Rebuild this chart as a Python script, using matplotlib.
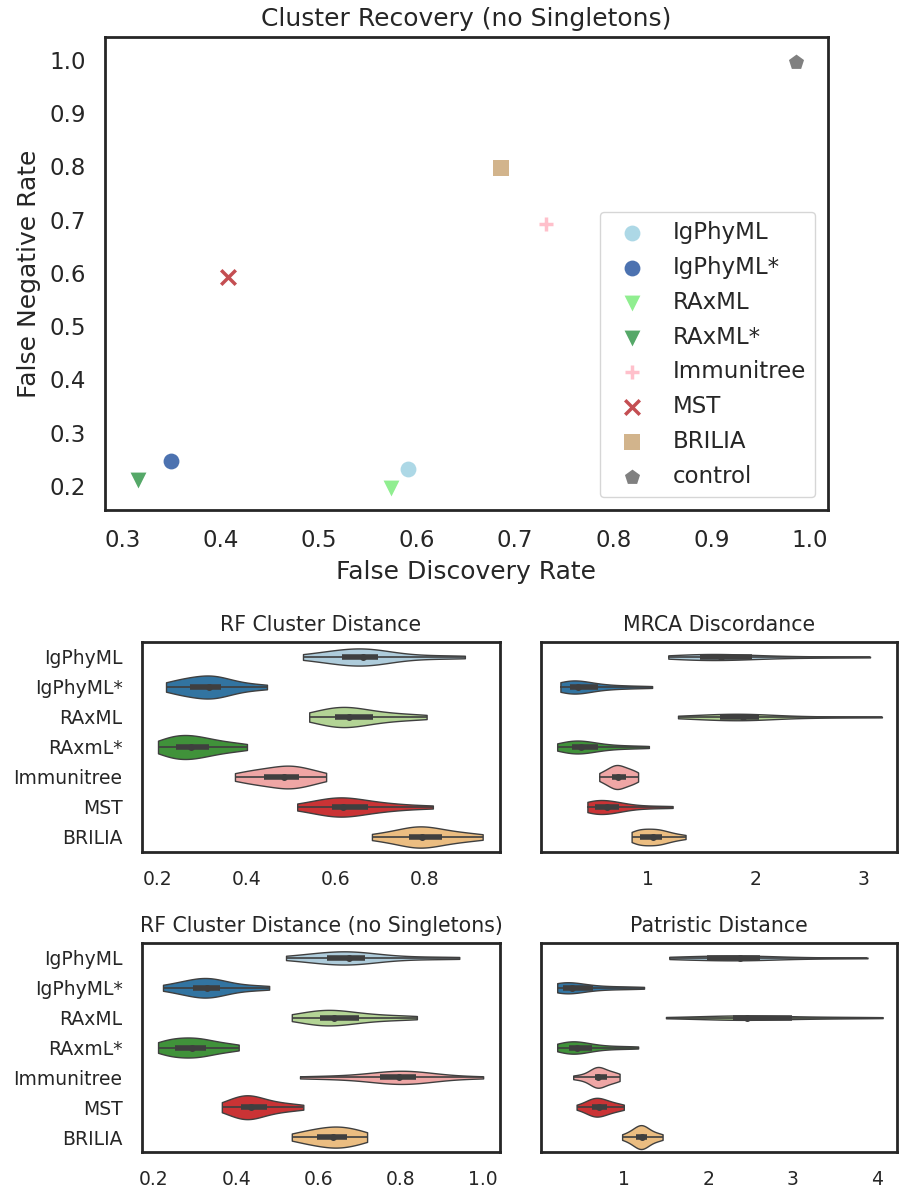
import numpy as np
import pandas as pd
import matplotlib
matplotlib.use("Agg")
import matplotlib.pyplot as plt
import seaborn as sns

sns.set_style("white")
plt.rcParams['font.family'] = ['DejaVu Sans']
plt.rcParams['text.color'] = '0.15'
plt.rcParams['axes.labelcolor'] = '0.15'
plt.rcParams['xtick.color'] = '0.15'
plt.rcParams['ytick.color'] = '0.15'

# ---------------- scatter data ----------------
methods = ["IgPhyML", "IgPhyML*", "RAxML", "RAxML*", "Immunitree", "MST", "BRILIA", "control"]
fdr = [0.591, 0.349, 0.573, 0.315, 0.731, 0.407, 0.685, 0.986]
fnr = [0.232, 0.247, 0.196, 0.211, 0.692, 0.592, 0.797, 0.996]
scatter_colors = ["#add8e6", "#4c72b0", "#90ee90", "#55a868", "#ffc0cb", "#c44e52", "#d2b48c", "#808080"]
scatter_markers = ["o", "o", "v", "v", "+", "x", "s", "p"]

# ---------------- violin data ----------------
violin_cats = ["IgPhyML", "IgPhyML*", "RAxML", "RAxmL*", "Immunitree", "MST", "BRILIA"]
violin_palette = ["#a6cee3", "#1f78b4", "#b2df8a", "#33a02c", "#fb9a99", "#e31a1c", "#fdbf6f"]

rf_cluster = [
    [.526, .560, .585, .600, .614, .628, .640, .651, .661, .670, .678, .686, .695, .720, .760, .820, .890],
    [.218, .235, .250, .262, .272, .285, .296, .306, .314, .321, .328, .335, .342, .358, .378, .405, .445],
    [.540, .560, .575, .588, .598, .608, .615, .622, .629, .640, .652, .668, .684, .705, .730, .765, .804],
    [.200, .212, .224, .233, .240, .250, .258, .266, .274, .283, .293, .304, .315, .330, .350, .372, .400],
    [.373, .395, .412, .427, .438, .452, .465, .476, .484, .492, .499, .507, .517, .528, .540, .556, .578],
    [.513, .540, .560, .578, .591, .600, .606, .611, .616, .628, .642, .656, .672, .695, .720, .755, .818],
    [.681, .710, .730, .750, .764, .772, .780, .787, .793, .802, .812, .825, .838, .855, .875, .900, .930],
]
mrca = [
    [1.19, 1.30, 1.38, 1.44, 1.48, 1.54, 1.59, 1.64, 1.68, 1.74, 1.81, 1.89, 1.97, 2.12, 2.35, 2.65, 3.06],
    [.19, .22, .24, .26, .28, .30, .32, .34, .35, .38, .42, .47, .54, .62, .72, .86, 1.04],
    [1.28, 1.42, 1.52, 1.60, 1.67, 1.73, 1.79, 1.84, 1.88, 1.91, 1.95, 1.99, 2.03, 2.18, 2.40, 2.72, 3.17],
    [.16, .21, .25, .28, .30, .32, .34, .36, .38, .41, .45, .49, .54, .62, .72, .85, 1.01],
    [.55, .59, .62, .65, .67, .69, .70, .71, .72, .74, .76, .78, .80, .83, .85, .88, .91],
    [.44, .46, .48, .50, .51, .53, .55, .58, .62, .65, .68, .70, .73, .80, .90, 1.05, 1.23],
    [.85, .88, .90, .92, .93, .96, .99, 1.02, 1.05, 1.07, 1.09, 1.11, 1.13, 1.17, 1.21, 1.27, 1.35],
]
rf_nosingle = [
    [.521, .565, .590, .608, .621, .637, .650, .662, .673, .683, .693, .703, .713, .745, .790, .860, .942],
    [.222, .250, .268, .283, .295, .305, .314, .322, .329, .336, .343, .351, .361, .380, .405, .440, .480],
    [.535, .560, .578, .592, .604, .613, .621, .630, .638, .650, .664, .681, .699, .725, .755, .795, .839],
    [.210, .222, .233, .243, .251, .262, .272, .283, .292, .300, .309, .318, .327, .342, .360, .382, .406],
    [.555, .630, .680, .720, .750, .765, .776, .786, .796, .806, .816, .827, .838, .855, .875, .920, 1.0],
    [.365, .382, .394, .403, .411, .418, .424, .430, .435, .442, .450, .461, .474, .490, .508, .532, .563],
    [.535, .556, .572, .586, .597, .607, .617, .627, .636, .644, .652, .660, .669, .680, .692, .705, .718],
]
patristic = [
    [1.54, 1.68, 1.80, 1.90, 1.99, 2.10, 2.20, 2.30, 2.38, 2.44, 2.50, 2.56, 2.62, 2.80, 3.05, 3.40, 3.89],
    [.21, .23, .25, .27, .28, .30, .32, .35, .38, .42, .48, .55, .63, .75, .90, 1.05, 1.24],
    [1.50, 1.80, 2.00, 2.16, 2.29, 2.34, 2.38, 2.42, 2.46, 2.55, 2.67, 2.82, 2.99, 3.20, 3.45, 3.75, 4.07],
    [.21, .26, .30, .33, .35, .37, .39, .42, .44, .48, .52, .57, .62, .72, .85, 1.00, 1.17],
    [.40, .50, .57, .62, .66, .67, .68, .685, .69, .71, .73, .76, .80, .84, .87, .91, .95],
    [.44, .52, .57, .60, .62, .64, .66, .68, .70, .72, .74, .77, .80, .84, .88, .94, 1.0],
    [.98, 1.05, 1.09, 1.12, 1.15, 1.17, 1.18, 1.20, 1.21, 1.22, 1.24, 1.25, 1.27, 1.31, 1.35, 1.40, 1.46],
]

panel_titles = ["RF Cluster Distance", "MRCA Discordance",
                "RF Cluster Distance (no Singletons)", "Patristic Distance"]
panel_data = [rf_cluster, mrca, rf_nosingle, patristic]
panel_xticks = [[0.2, 0.4, 0.6, 0.8], [1, 2, 3], [0.2, 0.4, 0.6, 0.8, 1.0], [1, 2, 3, 4]]
panel_xticklabels = [["0.2", "0.4", "0.6", "0.8"], ["1", "2", "3"],
                     ["0.2", "0.4", "0.6", "0.8", "1.0"], ["1", "2", "3", "4"]]
panel_xlims = [(0.164, 0.969), (0.01, 3.31), (0.171, 1.041), (0.018, 4.24)]

W, H = 899, 1192
fig = plt.figure(figsize=(W / 100, H / 100), dpi=100)

def frac(l, t, r, b):
    return [l / W, 1 - b / H, (r - l) / W, (b - t) / H]

spine_col = '0.15'

# ---------------- top scatter ----------------
ax = fig.add_axes(frac(105, 37, 828, 510))
for x, y, c, m, lab in zip(fdr, fnr, scatter_colors, scatter_markers, methods):
    if m in ("x", "+"):
        ax.scatter([x], [y], color=c, marker=m, s=110, linewidths=2.5, label=lab)
    else:
        ax.scatter([x], [y], color=c, marker=m, s=130, linewidths=0, label=lab)
ax.set_xlim(0.2816, 1.019)
ax.set_ylim(0.155, 1.043)
ax.set_xticks([0.3, 0.4, 0.5, 0.6, 0.7, 0.8, 0.9, 1.0])
ax.set_yticks([0.2, 0.3, 0.4, 0.5, 0.6, 0.7, 0.8, 0.9, 1.0])
ax.tick_params(axis='x', labelsize=16.5, length=0, pad=13.5)
ax.tick_params(axis='y', labelsize=16.5, length=0, pad=13.5)
ax.set_xlabel("False Discovery Rate", fontsize=18, labelpad=6)
ax.set_ylabel("False Negative Rate", fontsize=18, labelpad=6)
ax.set_title("Cluster Recovery (no Singletons)", fontsize=18, pad=8)
for s in ax.spines.values():
    s.set_color(spine_col)
    s.set_linewidth(2.0)
leg = ax.legend(loc="lower right", fontsize=16.5, frameon=True, borderaxespad=0.55,
                labelspacing=0.52)
leg.get_frame().set_edgecolor('0.8')

# ---------------- violins ----------------
boxes = [(142, 642, 500, 852), (541, 642, 897, 852), (142, 943, 500, 1152), (541, 943, 897, 1152)]
gray = '#3f3f3f'
for k in range(4):
    axv = fig.add_axes(frac(*boxes[k]))
    data = panel_data[k]
    df = pd.DataFrame({
        "value": [v for d in data for v in d],
        "method": [c for c, d in zip(violin_cats, data) for _ in d],
    })
    sns.violinplot(data=df, x="value", y="method", hue="method", order=violin_cats,
                   hue_order=violin_cats, palette=violin_palette, orient="h",
                   cut=0, inner=None, density_norm="area", common_norm=True,
                   linewidth=1.0, linecolor=gray, saturation=0.75, legend=False, ax=axv)
    for i, d in enumerate(data):
        d = np.asarray(d)
        q1, med, q3 = np.percentile(d, [25, 50, 75])
        axv.hlines(i, d.min(), d.max(), color=gray, lw=1.2, zorder=3)
        axv.hlines(i, q1, q3, color=gray, lw=4.0, zorder=3)
        axv.plot([med], [i], 'o', color=gray, ms=4.0, zorder=4)
    axv.set_xlim(*panel_xlims[k])
    axv.set_ylim(6.5, -0.5)
    axv.set_xticks(panel_xticks[k])
    axv.set_xticklabels(panel_xticklabels[k])
    axv.set_xlabel("")
    axv.set_ylabel("")
    axv.tick_params(axis='x', labelsize=13.5, length=0, pad=13)
    axv.tick_params(axis='y', labelsize=13.5, length=0, pad=14)
    if k % 2 == 1:
        axv.set_yticklabels([])
    axv.set_title(panel_titles[k], fontsize=14.8, pad=8)
    for s in axv.spines.values():
        s.set_visible(True)
        s.set_color(spine_col)
        s.set_linewidth(2.0)

fig.savefig("out.png", dpi=100)
